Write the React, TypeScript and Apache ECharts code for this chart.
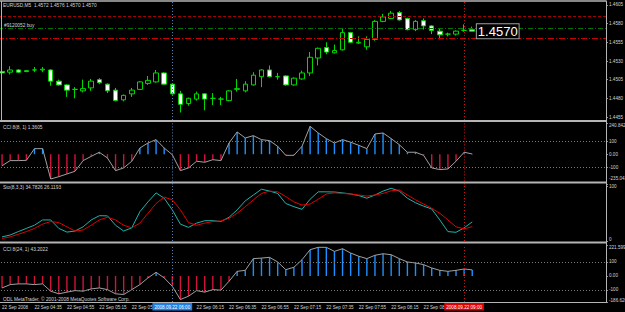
import { useEffect, useRef } from 'react';
import * as echarts from 'echarts';

// ---------- data ----------
const candleOpen = [
  1.4516, 1.4515, 1.4518, 1.4517, 1.4518, 1.4518, 1.4518, 1.4503, 1.4498, 1.4492,
  1.4490, 1.4494, 1.4505, 1.4499, 1.4491, 1.4478, 1.4486, 1.4492, 1.4500, 1.4502,
  1.4514, 1.4499, 1.4486, 1.4473, 1.4479, 1.4486, 1.4480, 1.4479, 1.4477, 1.4492,
  1.4490, 1.4498, 1.4509, 1.4518, 1.4509, 1.4510, 1.4498, 1.4506, 1.4514, 1.4534,
  1.4548, 1.4541, 1.4545, 1.4568, 1.4554, 1.4549, 1.4559, 1.4583, 1.4587, 1.4595,
  1.4587, 1.4572, 1.4584, 1.4577, 1.4570, 1.4566, 1.4566, 1.4571, 1.4572,
];
const candleClose = [
  1.4514, 1.4518, 1.4515, 1.4516, 1.4518, 1.4519, 1.4503, 1.4498, 1.4491, 1.4492,
  1.4493, 1.4503, 1.4501, 1.4490, 1.4477, 1.4484, 1.4491, 1.4502, 1.4504, 1.4514,
  1.4499, 1.4486, 1.4472, 1.4480, 1.4486, 1.4479, 1.4480, 1.4479, 1.4490, 1.4493,
  1.4499, 1.4511, 1.4518, 1.4509, 1.4509, 1.4498, 1.4507, 1.4514, 1.4535, 1.4547,
  1.4542, 1.4544, 1.4568, 1.4555, 1.4555, 1.4559, 1.4583, 1.4589, 1.4594, 1.4585,
  1.4572, 1.4583, 1.4577, 1.4571, 1.4565, 1.4566, 1.4570, 1.4571, 1.4570,
];
const candleLow = [
  1.4513, 1.4512, 1.4514, 1.4515, 1.4515, 1.4515, 1.4497, 1.4497, 1.4482, 1.4480,
  1.4488, 1.4490, 1.4499, 1.4487, 1.4476, 1.4476, 1.4482, 1.4491, 1.4498, 1.4501,
  1.4498, 1.4485, 1.4461, 1.4470, 1.4477, 1.4464, 1.4471, 1.4471, 1.4476, 1.4489,
  1.4488, 1.4497, 1.4495, 1.4508, 1.4505, 1.4497, 1.4497, 1.4505, 1.4510, 1.4524,
  1.4539, 1.4540, 1.4544, 1.4554, 1.4553, 1.4545, 1.4557, 1.4582, 1.4586, 1.4584,
  1.4571, 1.4570, 1.4572, 1.4566, 1.4559, 1.4563, 1.4564, 1.4569, 1.4570,
];
const candleHigh = [
  1.4517, 1.4523, 1.4519, 1.4518, 1.4522, 1.4522, 1.4519, 1.4505, 1.4499, 1.4495,
  1.4505, 1.4506, 1.4507, 1.4500, 1.4494, 1.4485, 1.4494, 1.4503, 1.4510, 1.4518,
  1.4515, 1.4500, 1.4490, 1.4481, 1.4489, 1.4487, 1.4487, 1.4482, 1.4491, 1.4506,
  1.4503, 1.4515, 1.4519, 1.4524, 1.4514, 1.4511, 1.4508, 1.4517, 1.4542, 1.4548,
  1.4555, 1.4552, 1.4573, 1.4569, 1.4563, 1.4563, 1.4585, 1.4593, 1.4597, 1.4597,
  1.4588, 1.4585, 1.4587, 1.4578, 1.4573, 1.4568, 1.4571, 1.4579, 1.4576,
];
const cciFast = [
  -90, -50, -50, -48, 43, 43, -193, -175, -154, -133,
  -50, -17, 15, -30, -128, -107, -55, 48, 87, 113,
  48, -4, -128, -107, -55, -63, -43, -50, 87, 173,
  126, 144, 113, 105, 61, -9, -9, 61, 217, 165,
  121, 87, 113, 93, 69, 43, 157, 165, 121, 74,
  15, 15, -9, -107, -120, -115, -55, 15, 1.3605,
];
const stochMain = [
  7.5, 10.9, 17.1, 22.9, 28.7, 38.3, 38.3, 22.9, 16.2, 18.1,
  25.8, 38.3, 46.0, 45.7, 28.7, 18.1, 23.9, 53.3, 71.1, 87.5,
  77.8, 56.6, 30.6, 24.8, 32.5, 36.9, 36.9, 35.4, 43.1, 56.6,
  73.0, 83.6, 94.2, 90.8, 86.5, 68.2, 62.4, 57.6, 75.9, 89.4,
  89.4, 89.1, 87.5, 85.5, 82.7, 77.8, 83.6, 90.8, 95.8, 90.8,
  77.8, 69.6, 63.4, 58.2, 38.3, 17.1, 15.8, 23.9, 34.7826,
];
const stochSignal = [
  4.6, 7.5, 12.3, 17.1, 22.9, 30.6, 35.4, 33.5, 25.8, 18.1,
  20.0, 28.7, 38.3, 43.1, 38.3, 28.7, 23.9, 32.5, 50.4, 68.2,
  79.8, 74.9, 56.6, 33.5, 28.7, 32.5, 35.4, 36.4, 41.2, 50.4,
  62.4, 74.9, 86.5, 90.8, 89.4, 80.7, 71.1, 65.3, 67.2, 75.9,
  85.5, 87.5, 86.5, 85.5, 83.6, 81.7, 83.6, 86.5, 91.3, 92.8,
  83.6, 74.9, 67.2, 59.5, 50.4, 38.3, 25.8, 22.0, 26.1193,
];
const cciSlow = [
  -86, -62, -57, -57, -62, -57, -109, -128, -116, -105,
  -109, -93, -86, -98, -128, -133, -98, -62, -14, 26,
  -14, -74, -169, -145, -105, -116, -98, -102, -38, 33,
  40, 124, 128, 133, 100, 45, 62, 116, 188, 205,
  205, 176, 195, 164, 141, 124, 148, 159, 152, 124,
  100, 93, 81, 57, 40, 33, 40, 50, 43.2022,
];
const timeTicks = [
  '22 Sep 2008', '22 Sep 04:35', '22 Sep 04:55', '22 Sep 05:15', '22 Sep 05:35',
  '22 Sep 05:55', '22 Sep 06:15', '22 Sep 06:35', '22 Sep 06:55', '22 Sep 07:15',
  '22 Sep 07:35', '22 Sep 07:55', '22 Sep 08:15', '22 Sep 08:35', '22 Sep 08:55',
];
const priceTicks = [1.4605, 1.458, 1.4555, 1.453, 1.4505, 1.448, 1.4455];
const priceRange = [1.4451, 1.4609];
const cciFastTicks = [240.8425, 100, 0, -100, -235.0416];
const cciFastTickLabels = ['240.8425', '100', '0.00', '-100', '-235.0416'];
const stochTicks = [100, 0];
const stochTickLabels = ['100', '0'];
const cciSlowTicks = [221.5996, 100, 0, -100, -186.6266];
const cciSlowTickLabels = ['221.5996', '100', '0.00', '-100', '-186.6266'];
const takeProfit = 1.459;
const openPrice = 1.4574;
const stopLoss = 1.456;
const currentPrice = 1.457;
const blueMarkerIndex = 21;
const redMarkerIndex = 57;
const blueMarkerText = '2008.09.22 06:00';
const redMarkerText = '2008.09.22 09:00';
const SLOTS = 75;

// ---------- styling ----------
const FONT = '"Liberation Sans", Arial, sans-serif';
const TXT = '#d4d4d4';
const FRAME = '#b4b4b4';
const LIME = '#00d800';
const HIST_RED = '#d0143c';
const HIST_BLUE = '#1e90ff';
const CCI_LINE = '#a0a0a0';
const LEVEL = '#7a7a7a';
const SMALL = 4.6;

const categories = Array.from({ length: SLOTS }, (_, i) => String(i));
const candleData = candleOpen.map((o, i) => [o, candleClose[i], candleLow[i], candleHigh[i]]);

const richShift = {
  d4: { fontSize: SMALL, fontFamily: FONT, color: TXT, padding: [4, 0, 0, 0] },
  u4: { fontSize: SMALL, fontFamily: FONT, color: TXT, padding: [0, 0, 4, 0] },
  u11: { fontSize: SMALL, fontFamily: FONT, color: TXT, padding: [0, 0, 11, 0] },
};

function makeFormatter(values: number[], labels: string[], shifts: Record<number, string>) {
  return (v: number) => {
    const k = values.findIndex((x) => Math.abs(x - v) < 1e-7);
    if (k < 0) return '';
    const s = shifts[k];
    return s ? `{${s}|${labels[k]}}` : labels[k];
  };
}

function yAxisFor(gridIndex: number, min: number, max: number, ticks: number[], formatter: any) {
  return {
    type: 'value',
    gridIndex,
    position: 'right',
    min,
    max,
    axisLine: { show: false },
    splitLine: { show: false },
    axisTick: { show: true, customValues: ticks, length: 2, lineStyle: { color: '#909090' } },
    axisLabel: {
      show: true,
      customValues: ticks,
      formatter,
      color: TXT,
      fontSize: SMALL,
      fontFamily: FONT,
      margin: 3,
      rich: richShift,
    },
  };
}

function vMarkers(withLabel: boolean) {
  const box = (bg: string, text: string) =>
    withLabel
      ? {
          show: true,
          position: 'start',
          distance: 1,
          formatter: text,
          backgroundColor: bg,
          color: '#ffffff',
          fontSize: SMALL,
          fontFamily: FONT,
          padding: [1.5, 2, 1, 2],
        }
      : { show: false };
  return [
    {
      xAxis: String(blueMarkerIndex),
      lineStyle: { color: '#4f7fb0', type: [1, 2], width: 1 },
      label: box('#1e7fe6', blueMarkerText),
    },
    {
      xAxis: String(redMarkerIndex),
      lineStyle: { color: '#d01010', type: [1, 2], width: 1 },
      label: box('#e00000', redMarkerText),
    },
  ];
}

function levelLines() {
  return [
    { yAxis: 100, lineStyle: { color: LEVEL, type: [1, 2], width: 1 } },
    { yAxis: -100, lineStyle: { color: LEVEL, type: [1, 2], width: 1 } },
  ];
}

const markLineBase = {
  silent: true,
  symbol: ['none', 'none'],
  animation: false,
  precision: 8,
  label: { show: false },
};

const GRID_LEFT = -2;
const GRID_RIGHT = 19;
const AXIS_X = 625 - GRID_RIGHT;

const gridBoxes = [
  { top: 2, height: 118 },
  { top: 123.2, height: 61.2 },
  { top: 186, height: 55 },
  { top: 245, height: 57 },
];

const fmt4 = (v: number) => v.toFixed(4);
const last = candleOpen.length - 1;

// time labels that sit under the highlighted time boxes are hidden, as in the terminal
const hiddenTickIndex = (idx: number) =>
  Math.abs(idx - blueMarkerIndex) <= 1 || Math.abs(idx - redMarkerIndex) <= 1;

function textEl(text: string, x: number, y: number, size = 4.8, color = TXT) {
  return {
    type: 'text',
    x,
    y,
    silent: true,
    z: 50,
    style: { text, fill: color, fontSize: size, fontFamily: FONT, verticalAlign: 'middle', align: 'left' },
  };
}

function lineEl(x1: number, y1: number, x2: number, y2: number, w = 1) {
  return {
    type: 'line',
    silent: true,
    z: 40,
    shape: { x1, y1, x2, y2 },
    style: { stroke: FRAME, lineWidth: w },
  };
}

export default function App() {
  const ref = useRef<HTMLDivElement>(null);
  useEffect(() => {
    if (!ref.current) return;
    const chart = echarts.init(ref.current, null, { renderer: 'svg' });
    const option: any = {
      animation: false,
      backgroundColor: '#000000',
      grid: gridBoxes.map((g) => ({
        left: GRID_LEFT,
        right: GRID_RIGHT,
        top: g.top,
        height: g.height,
        containLabel: false,
        outerBoundsMode: 'none',
      })),
      xAxis: [0, 1, 2, 3].map((i) => ({
        type: 'category',
        gridIndex: i,
        data: categories,
        boundaryGap: true,
        axisLine: { show: false },
        axisTick: { show: false },
        splitLine: { show: false },
        axisLabel:
          i === 3
            ? {
                show: true,
                interval: 0,
                formatter: (_v: string, idx: number) =>
                  idx % 4 === 0 && timeTicks[idx / 4] && !hiddenTickIndex(idx) ? timeTicks[idx / 4] : '',
                align: 'left',
                color: TXT,
                fontSize: SMALL,
                fontFamily: FONT,
                margin: 2.5,
              }
            : { show: false },
      })),
      yAxis: [
        yAxisFor(0, priceRange[0], priceRange[1], priceTicks, fmt4),
        yAxisFor(
          1,
          cciFastTicks[4],
          cciFastTicks[0],
          cciFastTicks,
          makeFormatter(cciFastTicks, cciFastTickLabels, { 0: 'd4', 4: 'u11' })
        ),
        yAxisFor(2, 0, 100, stochTicks, makeFormatter(stochTicks, stochTickLabels, { 1: 'u4' })),
        yAxisFor(
          3,
          cciSlowTicks[4],
          cciSlowTicks[0],
          cciSlowTicks,
          makeFormatter(cciSlowTicks, cciSlowTickLabels, { 0: 'd4', 4: 'u4' })
        ),
      ],
      series: [
        {
          type: 'candlestick',
          xAxisIndex: 0,
          yAxisIndex: 0,
          data: candleData,
          barWidth: 5,
          itemStyle: {
            color: '#000000',
            color0: '#ffffff',
            borderColor: LIME,
            borderColor0: LIME,
            borderColorDoji: LIME,
            borderWidth: 1,
          },
          markLine: {
            ...markLineBase,
            data: [
              { yAxis: takeProfit, lineStyle: { color: '#a80000', type: [3, 2], width: 1 } },
              { yAxis: openPrice, lineStyle: { color: '#007800', type: [5, 2, 1, 2], width: 1 } },
              { yAxis: stopLoss, lineStyle: { color: '#c80000', type: [6, 2, 1, 2], width: 1 } },
              {
                yAxis: currentPrice,
                lineStyle: { opacity: 0, width: 0 },
                label: {
                  show: true,
                  position: 'end',
                  distance: 2,
                  formatter: fmt4(currentPrice),
                  backgroundColor: '#ffffff',
                  color: '#000000',
                  fontSize: SMALL,
                  fontFamily: FONT,
                  padding: [1, 1.5, 0.5, 1.5],
                },
              },
              ...vMarkers(false),
            ],
          },
          markPoint: {
            silent: true,
            animation: false,
            symbol: 'rect',
            symbolSize: 1,
            itemStyle: { color: 'rgba(0,0,0,0)' },
            data: [{ coord: [String(last + 1), currentPrice], value: currentPrice }],
            label: {
              show: true,
              position: 'right',
              distance: 0,
              offset: [-4, 0],
              formatter: fmt4(currentPrice),
              color: '#ffffff',
              fontSize: 13,
              fontFamily: FONT,
              backgroundColor: '#000000',
              borderColor: '#a0a0a0',
              borderWidth: 1,
              padding: [1, 1, 0, 1],
            },
          },
        },
        {
          type: 'bar',
          xAxisIndex: 1,
          yAxisIndex: 1,
          data: cciFast,
          barWidth: 1.4,
          itemStyle: { color: (p: any) => (p.value < 0 ? HIST_RED : HIST_BLUE) },
        },
        {
          type: 'line',
          xAxisIndex: 1,
          yAxisIndex: 1,
          data: cciFast,
          symbol: 'none',
          lineStyle: { color: CCI_LINE, width: 1 },
          markLine: { ...markLineBase, data: [...levelLines(), ...vMarkers(false)] },
        },
        {
          type: 'line',
          xAxisIndex: 2,
          yAxisIndex: 2,
          data: stochMain,
          symbol: 'none',
          lineStyle: { color: '#20b2aa', width: 1 },
          markLine: { ...markLineBase, data: vMarkers(false) },
        },
        {
          type: 'line',
          xAxisIndex: 2,
          yAxisIndex: 2,
          data: stochSignal,
          symbol: 'none',
          lineStyle: { color: '#e00000', width: 1 },
        },
        {
          type: 'bar',
          xAxisIndex: 3,
          yAxisIndex: 3,
          data: cciSlow,
          barWidth: 1.4,
          itemStyle: { color: (p: any) => (p.value < 0 ? HIST_RED : HIST_BLUE) },
        },
        {
          type: 'line',
          xAxisIndex: 3,
          yAxisIndex: 3,
          data: cciSlow,
          symbol: 'none',
          lineStyle: { color: CCI_LINE, width: 1 },
          markLine: { ...markLineBase, data: [...levelLines(), ...vMarkers(true)] },
        },
      ],
      graphic: [
        lineEl(0, 1, AXIS_X, 1, 1.5),
        lineEl(1.5, 1, 1.5, 120, 1),
        lineEl(0, 121, AXIS_X, 121, 2),
        lineEl(0, 182.5, AXIS_X, 182.5, 2),
        lineEl(0, 242.5, AXIS_X, 242.5, 2),
        lineEl(0, 302.5, AXIS_X, 302.5, 1),
        lineEl(AXIS_X + 0.5, 0.5, AXIS_X + 0.5, 303, 1),
        textEl(
          `EURUSD,M5  ${fmt4(candleOpen[last])} ${fmt4(candleHigh[last])} ${fmt4(candleLow[last])} ${fmt4(
            candleClose[last]
          )}`,
          3,
          5
        ),
        textEl('#9120052 buy', 4, 25),
        textEl(`CCI 8(8, 1) ${fmt4(cciFast[last])}`, 3, 127.5),
        textEl(`Sto(8,3,3) ${fmt4(stochMain[last])} ${fmt4(stochSignal[last])}`, 3, 187.5),
        textEl(`CCI 8(24, 1) ${fmt4(cciSlow[last])}`, 3, 249),
        textEl('ODL MetaTrader, © 2001-2008 MetaQuotes Software Corp.', 3, 299),
      ],
    };
    chart.setOption(option);
    return () => chart.dispose();
  }, []);
  return (
    <div
      ref={ref}
      style={{ position: 'fixed', left: 0, top: 0, width: 625, height: 312, background: '#000' }}
    />
  );
}
